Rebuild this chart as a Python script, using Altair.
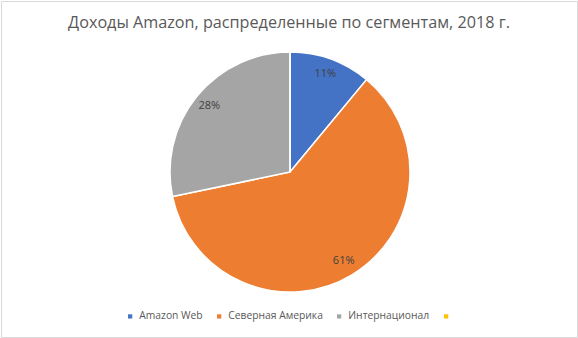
import altair as alt
import pandas as pd

segments = ["Amazon Web", "Северная Америка", "Интернационал", " "]
revenue = [25.66, 141.37, 65.87, 0.0]
pct_labels = ["11%", "61%", "28%", ""]
colors = ["#4472C4", "#ED7D31", "#A5A5A5", "#FFC000"]

df = pd.DataFrame({
    "segment": segments,
    "revenue": revenue,
    "label": pct_labels,
    "idx": list(range(len(segments))),
})

FONT = "Open Sans"

base = alt.Chart(df).encode(
    theta=alt.Theta("revenue:Q", stack=True),
    order=alt.Order("idx:O"),
)

color = alt.Color(
    "segment:N",
    scale=alt.Scale(domain=segments, range=colors),
    sort=segments,
    legend=alt.Legend(
        title=None,
        orient="none",
        direction="horizontal",
        legendX=124,
        legendY=310,
        symbolType="square",
        symbolSize=18,
        symbolStrokeWidth=0,
        labelFont=FONT,
        labelFontSize=10.3,
        labelColor="#595959",
        labelOffset=4,
        columnPadding=11,
    ),
)

pie = base.mark_arc(radius=120, stroke="white", strokeWidth=1.5).encode(
    color=color,
    x=alt.value(289),
    y=alt.value(171),
)

text = base.mark_text(radius=104, font=FONT, fontSize=11, color="#404040").encode(
    text="label:N",
    x=alt.value(289),
    y=alt.value(171),
)

chart = (pie + text).properties(
    width=576,
    height=336,
    padding=1,
    autosize=alt.AutoSizeParams(type="none"),
    title=alt.TitleParams(
        "Доходы Amazon, распределенные по сегментам, 2018 г.",
        font=FONT,
        fontSize=16.2,
        fontWeight="normal",
        color="#595959",
        anchor="middle",
        orient="top",
        offset=-30,
    ),
).configure_view(stroke="#D9D9D9", strokeWidth=1)

chart.save("out.html", embed_options={"renderer": "svg", "actions": False})
